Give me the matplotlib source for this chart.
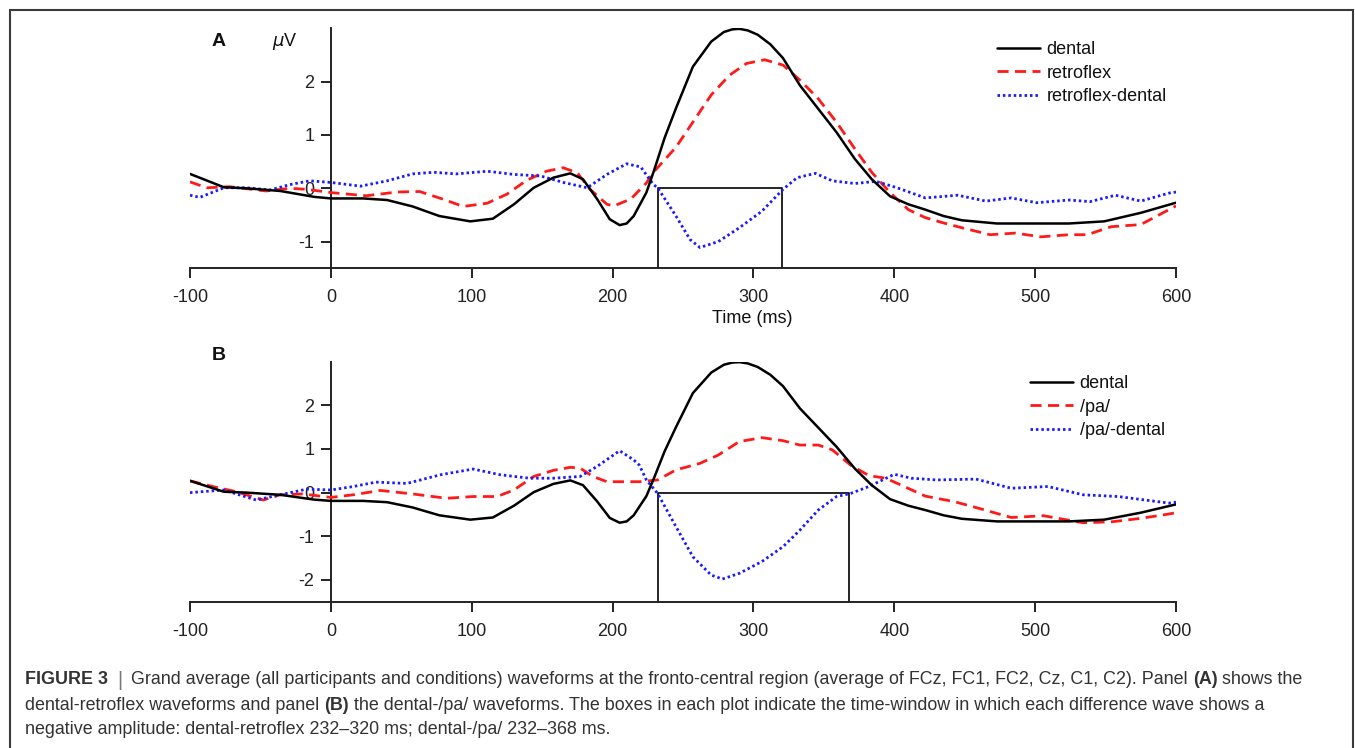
import matplotlib
matplotlib.use("Agg")
import matplotlib.pyplot as plt
from matplotlib.patches import Rectangle
from matplotlib.lines import Line2D

plt.rcParams['font.family'] = ['Liberation Sans', 'DejaVu Sans']

W, H = 1355, 748
DPI = 100

# ---------------- data ----------------
xticks = [-100, 0, 100, 200, 300, 400, 500, 600]
yticks_A = [-1, 0, 1, 2]
yticks_B = [-2, -1, 0, 1, 2]
ylim_A = (-1.5, 3.0)
ylim_B = (-2.5, 3.0)

# dental (same grand average shown in both panels)
t_dental = [-100, -76, -60, -36, -12, 0, 23, 40, 58, 77, 99, 115, 130, 144, 158,
            170, 179, 189, 198, 205, 210, 215, 224, 229, 237, 245, 257, 270, 279, 285,
            290, 296, 303, 312, 321, 333, 346, 359, 372, 384, 397, 410, 422, 435, 448,
            473, 498, 524, 549, 575, 600]
v_dental = [0.27, 0.02, 0.0, -0.05, -0.16, -0.19, -0.19, -0.22, -0.34, -0.52, -0.62,
            -0.57, -0.30, 0.01, 0.20, 0.28, 0.17, -0.20, -0.58, -0.69, -0.66, -0.52,
            -0.08, 0.30, 0.95, 1.50, 2.28, 2.75, 2.93, 2.98, 2.99, 2.96, 2.88, 2.70,
            2.44, 1.93, 1.49, 1.05, 0.55, 0.17, -0.15, -0.30, -0.40, -0.52, -0.60,
            -0.66, -0.66, -0.66, -0.62, -0.46, -0.27]

# Panel A: retroflex
t_retroflex = [-100, -88, -72, -46, -29, -17, 0, 25, 47, 63, 78, 94, 111, 125, 139,
               153, 165, 175, 184, 196, 201, 213, 224, 229, 245, 257, 270, 283, 295,
               308, 321, 333, 346, 359, 372, 384, 397, 410, 422, 435, 448, 468, 486,
               504, 524, 537, 554, 575, 595, 600]
v_retroflex = [0.12, 0.01, 0.03, -0.05, 0.0, -0.02, -0.08, -0.14, -0.07, -0.06, -0.19,
               -0.34, -0.28, -0.11, 0.15, 0.32, 0.385, 0.29, -0.02, -0.30, -0.33, -0.20,
               0.10, 0.30, 0.77, 1.24, 1.75, 2.12, 2.34, 2.41, 2.31, 2.03, 1.68, 1.24,
               0.74, 0.30, -0.08, -0.40, -0.55, -0.65, -0.74, -0.87, -0.84, -0.91, -0.87,
               -0.87, -0.72, -0.68, -0.40, -0.33]

# Panel A: retroflex - dental
t_diff_A = [-100, -93, -76, -60, -43, -29, -15, 0, 21, 40, 58, 73, 89, 111, 130, 149,
            165, 182, 196, 210, 220, 229, 232, 245, 255, 262, 275, 290, 306, 321, 331,
            344, 356, 372, 387, 402, 422, 445, 465, 483, 501, 524, 539, 557, 575, 595,
            600]
v_diff_A = [-0.13, -0.17, 0.01, 0.01, -0.03, 0.07, 0.14, 0.11, 0.04, 0.14, 0.27, 0.30,
            0.27, 0.32, 0.26, 0.23, 0.11, 0.01, 0.26, 0.46, 0.40, 0.07, 0.01, -0.52,
            -0.96, -1.11, -1.0, -0.74, -0.43, -0.02, 0.2, 0.28, 0.14, 0.09, 0.13, 0.01,
            -0.18, -0.13, -0.24, -0.18, -0.27, -0.22, -0.25, -0.13, -0.24, -0.09, -0.07]

# Panel B: /pa/
t_pa = [-100, -84, -67, -48, -36, -20, 0, 16, 35, 58, 82, 101, 118, 130, 144, 158,
        170, 177, 186, 196, 213, 219, 232, 245, 262, 275, 290, 306, 321, 333, 346,
        356, 369, 382, 394, 407, 422, 443, 460, 483, 506, 534, 554, 575, 595, 600]
v_pa = [0.27, 0.14, 0.02, -0.17, -0.05, -0.03, -0.11, -0.05, 0.05, -0.03, -0.13,
        -0.09, -0.09, 0.06, 0.37, 0.51, 0.58, 0.56, 0.37, 0.25, 0.25, 0.25, 0.29,
        0.52, 0.67, 0.86, 1.17, 1.26, 1.19, 1.09, 1.09, 0.98, 0.63, 0.39, 0.33, 0.14,
        -0.08, -0.21, -0.36, -0.57, -0.53, -0.69, -0.67, -0.59, -0.49, -0.46]

# Panel B: /pa/ - dental
t_diff_B = [-100, -76, -53, -36, -17, 0, 16, 32, 54, 78, 101, 120, 141, 158, 177, 189,
            205, 215, 219, 224, 232, 245, 257, 270, 278, 290, 306, 321, 333, 346, 359,
            369, 382, 400, 412, 430, 458, 483, 509, 534, 559, 595, 600]
v_diff_B = [0.0, 0.06, -0.17, -0.05, 0.08, 0.06, 0.14, 0.24, 0.21, 0.41, 0.54, 0.41,
            0.33, 0.33, 0.37, 0.6, 0.96, 0.75, 0.63, 0.29, -0.02, -0.78, -1.47, -1.89,
            -1.98, -1.85, -1.58, -1.24, -0.86, -0.40, -0.09, -0.02, 0.14, 0.42, 0.33,
            0.29, 0.31, 0.10, 0.14, -0.05, -0.09, -0.24, -0.22]

window_A = (232, 320)
window_B = (232, 368)

labels_A = ["dental", "retroflex", "retroflex-dental"]
labels_B = ["dental", "/pa/", "/pa/-dental"]

caption_lines = [
    [("FIGURE 3", "bold"), ("|", "sep"),
     ("Grand average (all participants and conditions) waveforms at the fronto-central "
      "region (average of FCz, FC1, FC2, Cz, C1, C2). Panel", "normal"),
     ("(A)", "bold"), ("shows the", "normal")],
    [("dental-retroflex waveforms and panel", "normal"), ("(B)", "bold"),
     ("the dental-/pa/ waveforms. The boxes in each plot indicate the time-window in "
      "which each difference wave shows a", "normal")],
    [("negative amplitude: dental-retroflex 232\u2013320 ms; dental-/pa/ 232\u2013368 ms.",
      "normal")],
]

# ---------------- style ----------------
INK = "#222222"
style_dental = dict(color="black", lw=1.8, solid_capstyle="round",
                    solid_joinstyle="round")
style_red = dict(color="#ff1a1a", lw=2.0, dashes=(4.0, 2.3))
style_blue = dict(color="#1a1aff", lw=2.0, dashes=(0.9, 1.05))

fig = plt.figure(figsize=(W / DPI, H / DPI), dpi=DPI)


def px_rect(left, top, right, bottom):
    return [left / W, 1 - bottom / H, (right - left) / W, (bottom - top) / H]


axA = fig.add_axes(px_rect(190, 28.3, 1176, 268.3))
axB = fig.add_axes(px_rect(190, 361.7, 1176, 601.7))


def setup(ax, ylim, yticks):
    ax.set_xlim(-100, 600)
    ax.set_ylim(*ylim)
    ax.set_facecolor("none")
    for s in ("top", "right"):
        ax.spines[s].set_visible(False)
    ax.spines["left"].set_position(("data", 0))
    for s in ("left", "bottom"):
        ax.spines[s].set_linewidth(1.4)
        ax.spines[s].set_color(INK)
    ax.set_xticks(xticks)
    ax.set_xticklabels([str(v) for v in xticks])
    ax.set_yticks(yticks)
    ax.set_yticklabels([str(v) for v in yticks])
    ax.tick_params(axis="both", direction="out", length=7, width=1.4, color=INK,
                   labelsize=13, labelcolor=INK)
    ax.tick_params(axis="x", pad=8)
    ax.tick_params(axis="y", pad=5)
    ax.set_axisbelow(True)


setup(axA, ylim_A, yticks_A)
setup(axB, ylim_B, yticks_B)

# Panel A lines
lA1, = axA.plot(t_dental, v_dental, zorder=4, **style_dental)
lA2, = axA.plot(t_retroflex, v_retroflex, zorder=3, **style_red)
lA3, = axA.plot(t_diff_A, v_diff_A, zorder=3, **style_blue)
axA.plot([window_A[0], window_A[0], window_A[1], window_A[1]],
         [ylim_A[0], 0, 0, ylim_A[0]], color="black", lw=1.2, zorder=2)

# Panel B lines
lB1, = axB.plot(t_dental, v_dental, zorder=4, **style_dental)
lB2, = axB.plot(t_pa, v_pa, zorder=3, **style_red)
lB3, = axB.plot(t_diff_B, v_diff_B, zorder=3, **style_blue)
axB.plot([window_B[0], window_B[0], window_B[1], window_B[1]],
         [ylim_B[0], 0, 0, ylim_B[0]], color="black", lw=1.2, zorder=2)

# Legends
leg_kw = dict(loc="upper left", bbox_transform=fig.transFigure, frameon=False,
              borderpad=0, borderaxespad=0, handlelength=2.4, handletextpad=0.35,
              labelspacing=0.36, fontsize=13)
legA = axA.legend([lA1, lA2, lA3], labels_A,
                  bbox_to_anchor=(997 / W, 1 - 41 / H), **leg_kw)
legB = axB.legend([lB1, lB2, lB3], labels_B,
                  bbox_to_anchor=(1030 / W, 1 - 375 / H), **leg_kw)
for leg in (legA, legB):
    for t in leg.get_texts():
        t.set_color("#111111")

# x label (panel A only)
axA.set_xlabel("Time (ms)", fontsize=13, color="#111111")
axA.xaxis.set_label_coords((752 - 190) / 986, (268.3 - 319) / 240)
axA.xaxis.label.set_va("center")

# Panel letters and unit
fig.text(219 / W, 1 - 41 / H, "A", fontsize=14, fontweight="bold", ha="center",
         va="center", color="#111111")
fig.text(285 / W, 1 - 41 / H, r"$\mu$V", fontsize=13, ha="center", va="center",
         color="#111111")
fig.text(219 / W, 1 - 356 / H, "B", fontsize=14, fontweight="bold", ha="center",
         va="center", color="#111111")

# Outer frame
fig.patches.append(Rectangle((9.5 / W, -0.05), (1353 - 9.5) / W, 1.05 - 10 / H,
                             transform=fig.transFigure, fill=False, lw=1.5,
                             edgecolor="#3a3a3a", clip_on=False))

# Caption
renderer = fig.canvas.get_renderer()
CAP_COLOR = "#333333"


def piece_width(txt, size, weight):
    t = fig.text(0, 0, txt, fontsize=size, fontweight=weight)
    w = t.get_window_extent(renderer).width
    t.remove()
    return w


def line_width(pieces, size):
    sp = piece_width("a a", size, "normal") - piece_width("aa", size, "normal")
    total = 0
    for i, (txt, kind) in enumerate(pieces):
        if kind == "sep":
            total += 9 + piece_width(txt, size, "normal") + 9
            continue
        if i > 0 and pieces[i - 1][1] != "sep":
            total += sp
        total += piece_width(txt, size, "bold" if kind == "bold" else "normal")
    return total


def draw_line(pieces, size, x0, y):
    sp = piece_width("a a", size, "normal") - piece_width("aa", size, "normal")
    x = x0
    for i, (txt, kind) in enumerate(pieces):
        if kind == "sep":
            x += 9
            t = fig.text(x / W, 1 - y / H, txt, fontsize=size * 1.1, color="#777777",
                         ha="left", va="center")
            x = t.get_window_extent(renderer).x1 + 9
            continue
        if i > 0 and pieces[i - 1][1] != "sep":
            x += sp
        t = fig.text(x / W, 1 - y / H, txt, fontsize=size,
                     fontweight="bold" if kind == "bold" else "normal",
                     color=CAP_COLOR, ha="left", va="center")
        x = t.get_window_extent(renderer).x1


base = 12.0
w1 = line_width(caption_lines[0], base)
cap_size = base * (1307 - 25) / w1
for line, y in zip(caption_lines, [680, 705, 729]):
    draw_line(line, cap_size, 25, y)

fig.savefig("out.png", dpi=DPI)
